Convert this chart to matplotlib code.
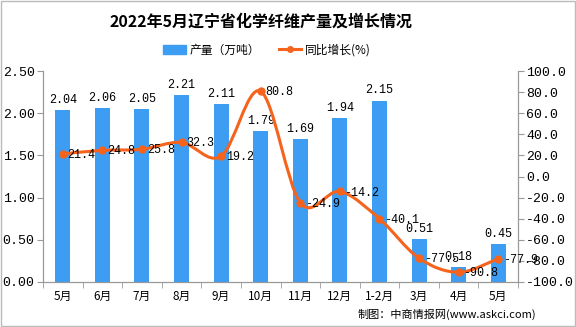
import matplotlib
matplotlib.use("Agg")
import matplotlib.pyplot as plt
from matplotlib.path import Path
from matplotlib.patches import PathPatch
from matplotlib.lines import Line2D
from matplotlib.patches import Patch
import numpy as np

plt.rcParams['font.family'] = ['Noto Sans CJK SC', 'DejaVu Sans']

categories = ['5月', '6月', '7月', '8月', '9月', '10月', '11月', '12月', '1-2月', '3月', '4月', '5月']
output = [2.04, 2.06, 2.05, 2.21, 2.11, 1.79, 1.69, 1.94, 2.15, 0.51, 0.18, 0.45]
growth = [21.4, 24.8, 25.8, 32.3, 19.2, 80.8, -24.9, -14.2, -40.1, -77.5, -90.8, -77.9]
left_ticks = [0.0, 0.5, 1.0, 1.5, 2.0, 2.5]
right_ticks = [-100, -80, -60, -40, -20, 0, 20, 40, 60, 80, 100]

bar_color = '#3D9DF2'
line_color = '#F5631C'
mono = 'Liberation Mono'

fig = plt.figure(figsize=(5.76, 3.27), dpi=100)
ax = fig.add_axes([43/576, 1-282/327, (518-43)/576, (282-71)/327])
ax2 = ax.twinx()

x = np.arange(len(categories))
ax.bar(x, output, width=0.38, color=bar_color, zorder=2)
ax.set_xlim(-0.5, len(categories)-0.5)
ax.set_ylim(0, 2.5)
ax.set_yticks(left_ticks)
ax.set_yticklabels([f"{v:.2f}" for v in left_ticks], family=mono, fontsize=9.5)
ax.set_xticks(x)
ax.set_xticklabels(categories, fontsize=8.5)
ax.set_xticks(np.arange(-0.5, len(categories)), minor=True)
ax.tick_params(axis='x', which='major', length=0, pad=6)
ax.tick_params(axis='x', which='minor', length=4, color='#999999', direction='out')
ax.tick_params(axis='y', length=4, color='#999999', pad=2)

for xi, v in zip(x, output):
    ax.text(xi, v + 0.05, f"{v:.2f}", ha='center', va='bottom', family=mono, fontsize=8.5, zorder=5)

ax2.set_ylim(-100, 100)
ax2.set_yticks(right_ticks)
ax2.set_yticklabels([f"{v:.1f}" for v in right_ticks], family=mono, fontsize=9.5)
ax2.tick_params(axis='y', length=4, color='#999999', pad=2)

for a in (ax, ax2):
    a.spines['top'].set_visible(False)
    for s in ('left', 'right', 'bottom'):
        a.spines[s].set_color('#999999')

# smooth curve (Catmull-Rom through the data points, rendered as Bezier path)
pts = np.column_stack([x, growth]).astype(float)
verts = [tuple(pts[0])]
codes = [Path.MOVETO]
t = 1/6
for i in range(len(pts)-1):
    p0 = pts[i-1] if i > 0 else pts[i]
    p1 = pts[i]
    p2 = pts[i+1]
    p3 = pts[i+2] if i+2 < len(pts) else pts[i+1]
    c1 = p1 + (p2 - p0) * t
    c2 = p2 - (p3 - p1) * t
    verts += [tuple(c1), tuple(c2), tuple(p2)]
    codes += [Path.CURVE4]*3
ax2.add_patch(PathPatch(Path(verts, codes), facecolor='none', edgecolor=line_color, lw=2.2, zorder=3))
ax2.plot(x, growth, linestyle='none', marker='o', markersize=5, color=line_color, zorder=4)
for xi, v in zip(x, growth):
    ax2.text(xi + 0.12, v - 1, f"{v:.1f}", ha='left', va='center', family=mono, fontsize=8.5, zorder=5)

fig.text(261/576, 1-22/327, '2022年5月辽宁省化学纤维产量及增长情况', ha='center', va='center',
         fontsize=11.5, fontweight='bold')

handles = [Patch(color=bar_color), Line2D([0], [0], color=line_color, lw=2.2, marker='o', markersize=4)]
fig.legend(handles, ['产量（万吨）', '同比增长(%)'], loc='center', bbox_to_anchor=(267/576, 1-50/327),
           ncol=2, frameon=False, fontsize=8.5, handlelength=1.9, columnspacing=1.6, handletextpad=0.3)

fig.text(1-40/576, 1-314/327, '制图：中商情报网(www.askci.com)', ha='right', va='center', fontsize=8)

fig.patches.append(plt.Rectangle((0.001, 0.002), 0.997, 0.995, transform=fig.transFigure,
                                 fill=False, edgecolor='#BBBBBB', lw=1))

fig.savefig('out.png', dpi=100)
